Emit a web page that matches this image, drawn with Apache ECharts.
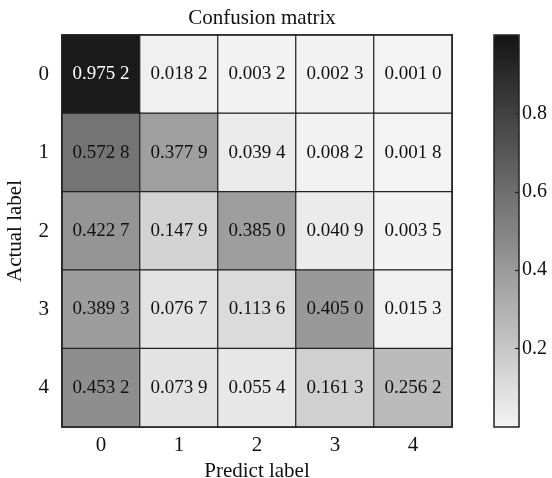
<!DOCTYPE html>
<html>
<head>
<meta charset="utf-8">
<script src="https://cdn.jsdelivr.net/npm/echarts@6/dist/echarts.min.js"></script>
<style>html,body{margin:0;padding:0;background:#fff;}#c{width:552px;height:478px;}</style>
</head>
<body>
<div id="c"></div>
<script>
const predictLabels = ['0', '1', '2', '3', '4'];
const actualLabels = ['0', '1', '2', '3', '4'];
const row0 = [0.9752, 0.0182, 0.0032, 0.0023, 0.0010];
const row1 = [0.5728, 0.3779, 0.0394, 0.0082, 0.0018];
const row2 = [0.4227, 0.1479, 0.3850, 0.0409, 0.0035];
const row3 = [0.3893, 0.0767, 0.1136, 0.4050, 0.0153];
const row4 = [0.4532, 0.0739, 0.0554, 0.1613, 0.2562];
const rows = [row0, row1, row2, row3, row4];

const FONT = '"Liberation Serif", "DejaVu Serif", serif';
const data = [];
rows.forEach((r, yi) => r.forEach((v, xi) => {
  data.push({
    value: [xi, yi, v],
    label: { color: v > 0.7 ? '#fff' : '#111' }
  });
}));
function fmt(v) {
  const s = v.toFixed(4);
  return s.slice(0, 5) + ' ' + s.slice(5);
}

const chart = echarts.init(document.getElementById('c'), null, { renderer: 'canvas' });
chart.setOption({
  backgroundColor: '#fff',
  animation: false,
  title: {
    text: 'Confusion matrix',
    left: 257, top: 3, textAlign: 'center',
    textStyle: { fontFamily: FONT, fontSize: 21, fontWeight: 'normal', color: '#111' }
  },
  grid: [
    { left: 62, top: 35, width: 390, height: 392, show: true, borderColor: '#222', borderWidth: 1.5, backgroundColor: 'transparent', z: 10, containLabel: false, outerBoundsMode: 'none' },
    { left: 494, top: 35, width: 25, height: 392, show: true, borderColor: '#222', borderWidth: 1.5, backgroundColor: 'transparent', z: 10, containLabel: false, outerBoundsMode: 'none' }
  ],
  xAxis: [
    {
      type: 'category', data: predictLabels, gridIndex: 0, position: 'bottom',
      axisLine: { show: false }, axisTick: { show: false }, splitLine: { show: false },
      axisLabel: { fontFamily: FONT, fontSize: 21, color: '#111', margin: 8 },
      name: 'Predict label', nameLocation: 'middle', nameGap: 29,
      nameTextStyle: { fontFamily: FONT, fontSize: 21, color: '#111' }
    },
    { type: 'value', gridIndex: 1, show: false, min: 0, max: 1 }
  ],
  yAxis: [
    {
      type: 'category', data: actualLabels, gridIndex: 0, inverse: true,
      axisLine: { show: false }, axisTick: { show: false }, splitLine: { show: false },
      axisLabel: { fontFamily: FONT, fontSize: 21, color: '#111', margin: 13 },
      name: 'Actual label', nameLocation: 'middle', nameGap: 36, nameRotate: 90,
      nameTextStyle: { fontFamily: FONT, fontSize: 21, color: '#111' }
    },
    {
      type: 'value', gridIndex: 1, position: 'left', offset: -25, min: 0, max: 1, interval: 0.2, z: 20,
      axisLine: { show: false },
      axisTick: { show: true, inside: false, length: 4, lineStyle: { color: '#222', width: 1.2 } },
      splitLine: { show: false },
      axisLabel: { inside: true, fontFamily: FONT, fontSize: 20, color: '#111', margin: 3,
        showMinLabel: false, showMaxLabel: false,
        formatter: v => (v > 0.01 && v < 0.99) ? v.toFixed(1) : '' }
    }
  ],
  visualMap: {
    type: 'continuous', min: 0, max: 1, dimension: 2, seriesIndex: 0,
    calculable: false, orient: 'vertical', left: 494, top: 35,
    itemWidth: 25, itemHeight: 392, padding: 0, text: null, showLabel: false,
    inRange: { color: ['#f4f4f4', '#141414'] }
  },
  series: [{
    type: 'heatmap', xAxisIndex: 0, yAxisIndex: 0, data: data,
    itemStyle: { borderColor: '#222', borderWidth: 1.2 },
    label: { show: true, fontFamily: FONT, fontSize: 19, formatter: p => fmt(p.value[2]) }
  }]
});
</script>
</body>
</html>
